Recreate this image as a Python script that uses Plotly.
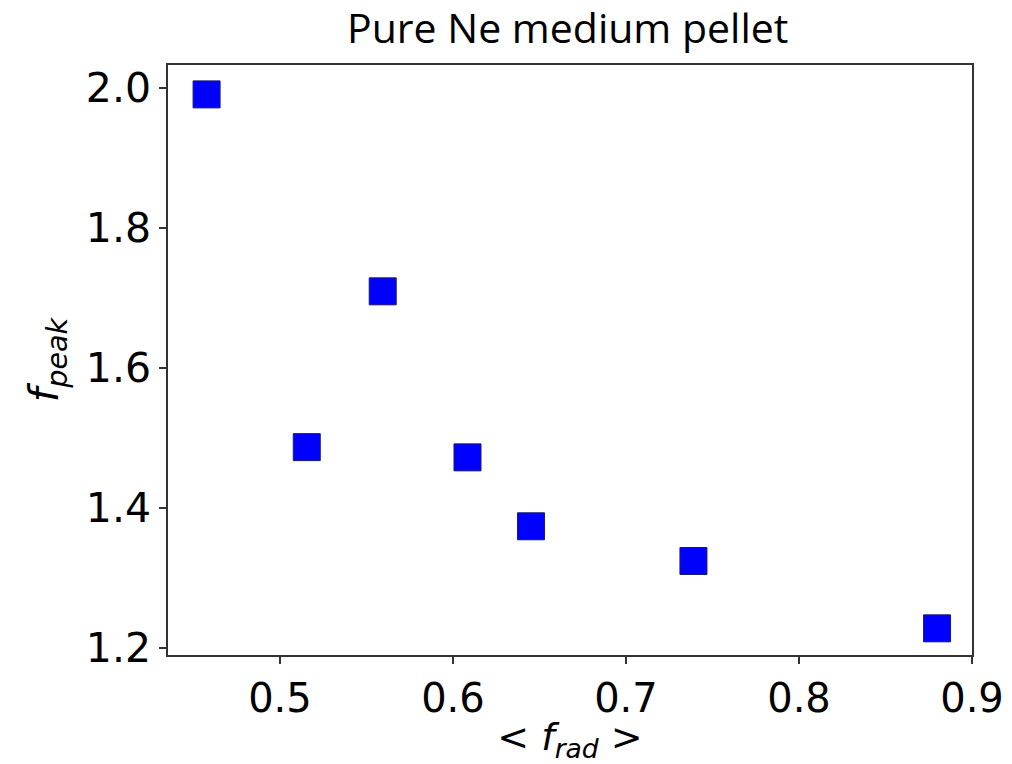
import plotly.graph_objects as go

f_rad = [0.4576, 0.5155, 0.5594, 0.6084, 0.6451, 0.7390, 0.8798]
f_peak = [1.991, 1.487, 1.7096, 1.4724, 1.3739, 1.3243, 1.2281]

x_ticks = [0.5, 0.6, 0.7, 0.8, 0.9]
x_ticklabels = ["0.5", "0.6", "0.7", "0.8", "0.9"]
y_ticks = [1.2, 1.4, 1.6, 1.8, 2.0]
y_ticklabels = ["1.2", "1.4", "1.6", "1.8", "2.0"]

fig = go.Figure()
fig.add_trace(go.Scatter(
    x=f_rad, y=f_peak, mode="markers",
    marker=dict(symbol="square", size=27, color="#0000ff",
                line=dict(color="#1a1a6e", width=1)),
    showlegend=False,
))

fig.update_layout(
    width=1012, height=764,
    margin=dict(l=168, r=40, t=65, b=109),
    paper_bgcolor="white", plot_bgcolor="white",
    title=dict(text="Pure Ne medium pellet", x=0.561, xanchor="center",
               y=0.963, yanchor="middle",
               font=dict(family="Open Sans", size=41, color="black")),
)
fig.update_xaxes(
    range=[0.4353, 0.9], tickvals=x_ticks, ticktext=x_ticklabels,
    automargin="bottom",
    showgrid=False, zeroline=False,
    showline=True, linecolor="#333333", linewidth=1.5, mirror=True,
    ticks="outside", ticklen=7, tickcolor="#333333", tickwidth=1.5,
    tickfont=dict(family="DejaVu Sans", size=40, color="black"),
    title=dict(text="&lt; <i>f</i><sub><i>rad</i></sub> &gt;",
               font=dict(family="DejaVu Sans", size=38, color="black"), standoff=4),
)
fig.update_yaxes(
    range=[1.19, 2.033], tickvals=y_ticks, ticktext=y_ticklabels,
    automargin="left",
    showgrid=False, zeroline=False,
    showline=True, linecolor="#333333", linewidth=1.5, mirror=True,
    ticks="outside", ticklen=7, tickcolor="#333333", tickwidth=1.5,
    tickfont=dict(family="DejaVu Sans", size=41, color="black"),
    title=dict(text="<i>f</i><sub><i>peak</i></sub>",
               font=dict(family="DejaVu Sans", size=41, color="black"), standoff=14),
)

fig.write_html("out.html")
